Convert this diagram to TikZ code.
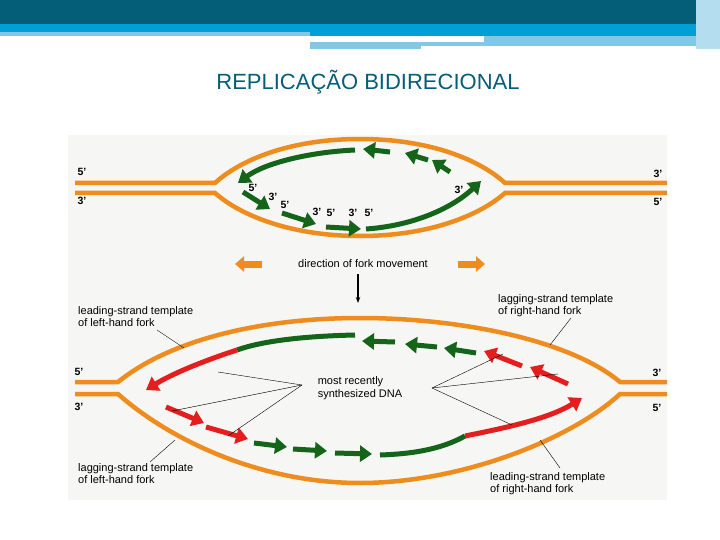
\documentclass[tikz,border=0pt]{standalone}
\usepackage{fontspec}
\setmainfont{Liberation Sans}
\usetikzlibrary{arrows.meta}
\definecolor{hdark}{RGB}{4,94,120}
\definecolor{hblue}{RGB}{0,160,215}
\definecolor{hlight}{RGB}{130,200,230}
\definecolor{dna}{RGB}{238,140,30}
\definecolor{gr}{RGB}{20,100,25}
\definecolor{rd}{RGB}{228,30,30}
\definecolor{panel}{RGB}{246,246,244}
\tikzset{
 strand/.style={dna,line width=4.5pt},
 garr/.style={gr,line width=5pt,-{Triangle[length=12pt,width=16pt]}},
 rarr/.style={rd,line width=5pt,-{Triangle[length=12pt,width=16pt]}},
 gline/.style={gr,line width=5pt},
 rline/.style={rd,line width=5pt},
 lbl/.style={font=\fontsize{11}{12.5}\selectfont,inner sep=1pt},
 end/.style={font=\bfseries\fontsize{10.5}{11}\selectfont,inner sep=0pt},
 lead/.style={black,line width=0.4pt},
 oarr/.style={dna,line width=7pt,-{Triangle[length=9pt,width=15pt]}}
}
\begin{document}
\begin{tikzpicture}[x=1pt,y=-1pt]
\useasboundingbox (0,0) rectangle (720,540);
\fill[white] (0,0) rectangle (720,540);
% header
\fill[hdark] (0,0) rectangle (720,24);
\fill[hblue] (0,24) rectangle (720,32);
\fill[hlight] (0,32) rectangle (310,36);
\fill[hblue] (310,32) rectangle (720,36);
\fill[hlight] (310,42) rectangle (421,49);
\fill[hlight] (421,42) rectangle (484,46);
\fill[hlight] (484,36) rectangle (705,46);
\fill[hlight!60] (696,0) rectangle (720,49);
\node[hdark,font=\fontsize{22}{25}\selectfont] (title) at (368,82) {REPLICAÇÃO BIDIRECIONAL};
% panel
\fill[panel] (68,135) rectangle (667,500);
% top bubble
\draw[strand] (75,183) -- (215,183) .. controls (240,160) and (290,139) .. (360,139) .. controls (430,139) and (480,160) .. (505,183) -- (667,183);
\draw[strand] (75,193) -- (215,193) .. controls (240,215) and (290,236) .. (360,236) .. controls (430,236) and (480,215) .. (505,193) -- (667,193);
\draw[garr] (355,150) .. controls (310,152) and (265,163) .. (238,183);
\draw[garr] (390,152) -- (363,149);
\draw[garr] (428,160) -- (405,153);
\draw[garr] (450,172) -- (432,160);
\draw[garr] (243,192) -- (270,209);
\draw[garr] (282,213) -- (316,224);
\draw[garr] (326,227) -- (361,229);
\draw[garr] (366,229) .. controls (410,226) and (450,210) .. (481,181);
\node[end] (t5a) at (82,172) {5'};
\node[end] (t3a) at (82,201) {3'};
\node[end] (t3b) at (658,174) {3'};
\node[end] (t5b) at (658,202) {5'};
\node[end] (a1) at (253,188) {5'};
\node[end] (a2) at (273,197) {3'};
\node[end] (a3) at (285,205) {5'};
\node[end] (a4) at (317,212) {3'};
\node[end] (a5) at (331,213) {5'};
\node[end] (a6) at (353,213) {3'};
\node[end] (a7) at (369,213) {5'};
\node[end] (a8) at (459,190) {3'};
% direction
\node[lbl] (dir) at (363,264) {direction of fork movement};
\coordinate (dl) at (262,264); \coordinate (dl2) at (235,264);
\coordinate (dr) at (458,264); \coordinate (dr2) at (485,264);
\draw[oarr] (dl) -- (dl2);
\draw[oarr] (dr) -- (dr2);
\coordinate (da) at (358,274); \coordinate (db) at (358,303);
\draw[-{Stealth[length=6pt]},line width=1.2pt] (da) -- (db);
% bottom bubble
\draw[strand] (75,382) -- (118,382) .. controls (170,340) and (260,318) .. (360,318) .. controls (460,318) and (570,340) .. (620,382) -- (667,382);
\draw[strand] (75,394) -- (118,394) .. controls (170,440) and (260,483) .. (360,483) .. controls (460,483) and (570,440) .. (620,394) -- (667,394);
\draw[gline] (355,335) .. controls (310,336) and (265,340) .. (237,350);
\draw[rarr] (237,350) .. controls (200,362) and (170,375) .. (146,390);
\draw[garr] (395,342) -- (362,341);
\draw[garr] (437,347) -- (405,344);
\draw[garr] (476,353) -- (444,348);
\draw[rarr] (522,366) -- (484,351);
\draw[rarr] (568,384) -- (530,367);
\draw[rarr] (166,407) -- (204,423);
\draw[rarr] (206,427) -- (248,439);
\draw[garr] (254,443) -- (287,447);
\draw[garr] (293,449) -- (327,451);
\draw[garr] (335,453) -- (372,454);
\draw[gline] (380,455) .. controls (410,454) and (440,450) .. (465,436);
\draw[rarr] (465,436) .. controls (510,427) and (550,418) .. (582,398);
\node[end] (b5a) at (79,372) {5'};
\node[end] (b3a) at (79,407) {3'};
\node[end] (b3b) at (657,373) {3'};
\node[end] (b5b) at (657,408) {5'};
% labels
\node[lbl,align=left,anchor=north west] (l1) at (77,305) {leading-strand template\\of left-hand fork};
\node[lbl,align=left,anchor=north west] (l2) at (497,293) {lagging-strand template\\of right-hand fork};
\node[lbl,align=left,anchor=north west] (l3) at (77,462) {lagging-strand template\\of left-hand fork};
\node[lbl,align=left,anchor=north west] (l4) at (489,471) {leading-strand template\\of right-hand fork};
\node[lbl,align=left] (m) at (360,388) {most recently\\synthesized DNA};
\coordinate (c1) at (184,348); \draw[lead] (157,330) -- (c1);
\coordinate (c2) at (550,345); \draw[lead] (571,318) -- (c2);
\coordinate (c3) at (175,440); \draw[lead] (150,462) -- (c3);
\coordinate (c4) at (540,440); \draw[lead] (560,468) -- (c4);
\coordinate (m1) at (302,385);
\coordinate (m2) at (432,388);
\coordinate (p1) at (218,372); \coordinate (p2) at (172,411); \coordinate (p3) at (228,436);
\coordinate (q1) at (503,354); \coordinate (q2) at (558,374); \coordinate (q3) at (512,425);
\draw[lead] (m1) -- (p1); \draw[lead] (m1) -- (p2); \draw[lead] (m1) -- (p3);
\draw[lead] (m2) -- (q1); \draw[lead] (m2) -- (q2); \draw[lead] (m2) -- (q3);
\end{tikzpicture}
\end{document}
